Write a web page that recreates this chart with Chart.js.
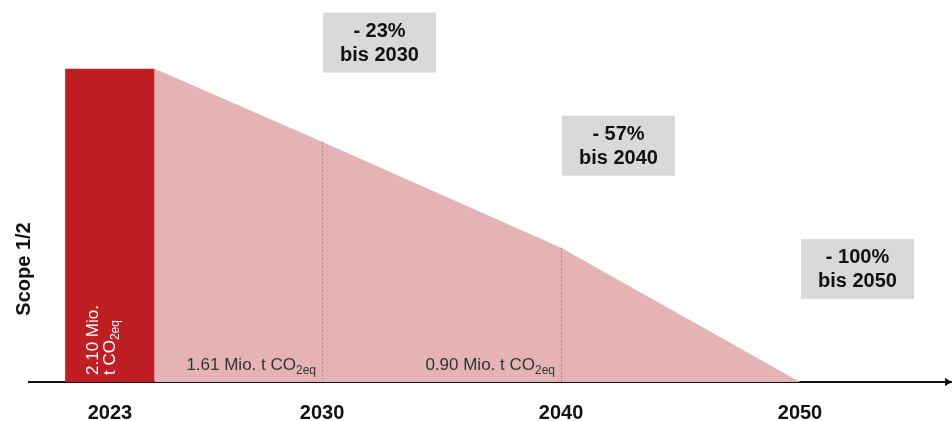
<!DOCTYPE html>
<html>
<head>
<meta charset="utf-8">
<script src="https://cdn.jsdelivr.net/npm/chart.js@4/dist/chart.umd.min.js"></script>
<style>
  html, body { margin: 0; padding: 0; background: #ffffff; }
  #wrap { width: 952px; height: 421px; position: relative; }
</style>
</head>
<body>
<div id="wrap"><canvas id="chart"></canvas></div>
<script>
// Emission path, Scope 1/2 (Mio. t CO2eq)
const YEARS = [2023, 2030, 2040, 2050];
const EMISSIONS = [2.10, 1.61, 0.90, 0];
const TICK_LABELS = ['2023', '2030', '2040', '2050'];
const TARGET_CUTS = ['- 23%', '- 57%', '- 100%'];
const TARGET_YEARS = ['bis 2030', 'bis 2040', 'bis 2050'];
const AXIS_TITLE = 'Scope 1/2';
const UNIT = 'Mio.';

// layout
const BAR_SPAN = 3.75;           // width of the base-year column, in years
const X_MIN = 2017.74, X_MAX = 2056.36, Y_MAX = 2.5;
const BOX_TOPS = [2.476, 1.785, 0.959];   // top edge of each target box, in axis units
const FONT = "'Liberation Sans', Arial, Helvetica, sans-serif";
const RED = '#BE1E24', PINK = '#E5B3B3', BOX_GREY = '#D9D9D9', INK = '#111111';
const LABEL_SIZE = 17, SUB_SIZE = 12;

function co2Text(ctx, x, y, prefix, color, align) {
  // writes "<prefix>CO" followed by a subscript "2eq"
  ctx.save();
  ctx.fillStyle = color;
  ctx.textBaseline = 'alphabetic';
  ctx.textAlign = 'left';
  const main = prefix + 'CO';
  ctx.font = LABEL_SIZE + 'px ' + FONT;
  const w1 = ctx.measureText(main).width;
  ctx.font = SUB_SIZE + 'px ' + FONT;
  const w2 = ctx.measureText('2eq').width;
  let x0 = x;
  if (align === 'right') x0 = x - (w1 + w2);
  ctx.font = LABEL_SIZE + 'px ' + FONT;
  ctx.fillText(main, x0, y);
  ctx.font = SUB_SIZE + 'px ' + FONT;
  ctx.fillText('2eq', x0 + w1, y + 4);
  ctx.restore();
}

const overlay = {
  id: 'overlay',
  afterDatasetsDraw(chart) {
    const { ctx, scales: { x, y } } = chart;
    const base = y.getPixelForValue(0);

    // dotted guides at the milestone years
    ctx.save();
    ctx.strokeStyle = 'rgba(130,95,95,0.55)';
    ctx.lineWidth = 1;
    ctx.setLineDash([2, 2]);
    for (let i = 1; i < YEARS.length - 1; i++) {
      const px = Math.round(x.getPixelForValue(YEARS[i])) + 0.5;
      ctx.beginPath();
      ctx.moveTo(px, y.getPixelForValue(EMISSIONS[i]));
      ctx.lineTo(px, base);
      ctx.stroke();
    }
    ctx.restore();

    // value in the base-year column, written upwards
    const colLeft = x.getPixelForValue(YEARS[0] - BAR_SPAN);
    ctx.save();
    ctx.translate(colLeft + 33, base - 7);
    ctx.rotate(-Math.PI / 2);
    ctx.fillStyle = '#ffffff';
    ctx.font = LABEL_SIZE + 'px ' + FONT;
    ctx.textAlign = 'left';
    ctx.fillText(EMISSIONS[0].toFixed(2) + ' ' + UNIT, 0, 0);
    ctx.restore();
    ctx.save();
    ctx.translate(colLeft + 50, base - 7);
    ctx.rotate(-Math.PI / 2);
    co2Text(ctx, 0, 0, 't ', '#ffffff', 'left');
    ctx.restore();

    // values of the milestone years, right-aligned before the guide
    for (let i = 1; i < YEARS.length - 1; i++) {
      const px = x.getPixelForValue(YEARS[i]);
      co2Text(ctx, px - 6, base - 12, EMISSIONS[i].toFixed(2) + ' ' + UNIT + ' t ', '#333333', 'right');
    }

    // reduction targets
    for (let i = 0; i < TARGET_CUTS.length; i++) {
      const left = x.getPixelForValue(YEARS[i + 1]) + 1;
      const top = y.getPixelForValue(BOX_TOPS[i]);
      const w = 113, h = 60;
      ctx.save();
      ctx.fillStyle = BOX_GREY;
      ctx.fillRect(left, top, w, h);
      ctx.fillStyle = INK;
      ctx.font = 'bold 20px ' + FONT;
      ctx.textAlign = 'center';
      ctx.textBaseline = 'alphabetic';
      ctx.fillText(TARGET_CUTS[i], left + w / 2, top + 24);
      ctx.fillText(TARGET_YEARS[i], left + w / 2, top + 48);
      ctx.restore();
    }

    // arrow tip on the time axis
    const right = chart.width;
    ctx.save();
    ctx.fillStyle = INK;
    ctx.beginPath();
    ctx.moveTo(right, base);
    ctx.lineTo(right - 7, base - 4);
    ctx.lineTo(right - 7, base + 4);
    ctx.closePath();
    ctx.fill();
    ctx.restore();

    // vertical axis title
    ctx.save();
    ctx.translate(24, 269);
    ctx.rotate(-Math.PI / 2);
    ctx.fillStyle = INK;
    ctx.font = 'bold 20px ' + FONT;
    ctx.textAlign = 'center';
    ctx.textBaseline = 'middle';
    ctx.fillText(AXIS_TITLE, 0, 0);
    ctx.restore();
  }
};

new Chart(document.getElementById('chart'), {
  type: 'line',
  data: {
    datasets: [
      {
        label: String(YEARS[0]),
        data: [{ x: YEARS[0] - BAR_SPAN, y: EMISSIONS[0] }, { x: YEARS[0], y: EMISSIONS[0] }],
        fill: 'origin',
        backgroundColor: RED,
        borderColor: 'rgba(0,0,0,0)',
        borderWidth: 0,
        pointRadius: 0,
        tension: 0
      },
      {
        label: 'Reduktionspfad',
        data: YEARS.map((yr, i) => ({ x: yr, y: EMISSIONS[i] })),
        fill: 'origin',
        backgroundColor: PINK,
        borderColor: 'rgba(0,0,0,0)',
        borderWidth: 0,
        pointRadius: 0,
        tension: 0
      }
    ]
  },
  options: {
    responsive: true,
    maintainAspectRatio: false,
    animation: false,
    layout: { padding: { left: 29, top: 9, right: 0, bottom: 0 } },
    plugins: { legend: { display: false }, tooltip: { enabled: false }, title: { display: false } },
    scales: {
      x: {
        type: 'linear',
        min: X_MIN,
        max: X_MAX,
        grid: { display: false, drawTicks: false },
        border: { display: true, color: INK, width: 2 },
        afterBuildTicks: (scale) => {
          scale.ticks = [YEARS[0] - BAR_SPAN / 2, ...YEARS.slice(1)].map(v => ({ value: v }));
        },
        afterFit: (scale) => { scale.height = 39; },
        ticks: {
          autoSkip: false,
          maxRotation: 0,
          padding: 19,
          color: INK,
          font: { family: FONT, size: 20, weight: 'bold' },
          callback: (v, i) => TICK_LABELS[i]
        }
      },
      y: {
        type: 'linear',
        min: 0,
        max: Y_MAX,
        display: false
      }
    }
  },
  plugins: [overlay]
});
</script>
</body>
</html>
